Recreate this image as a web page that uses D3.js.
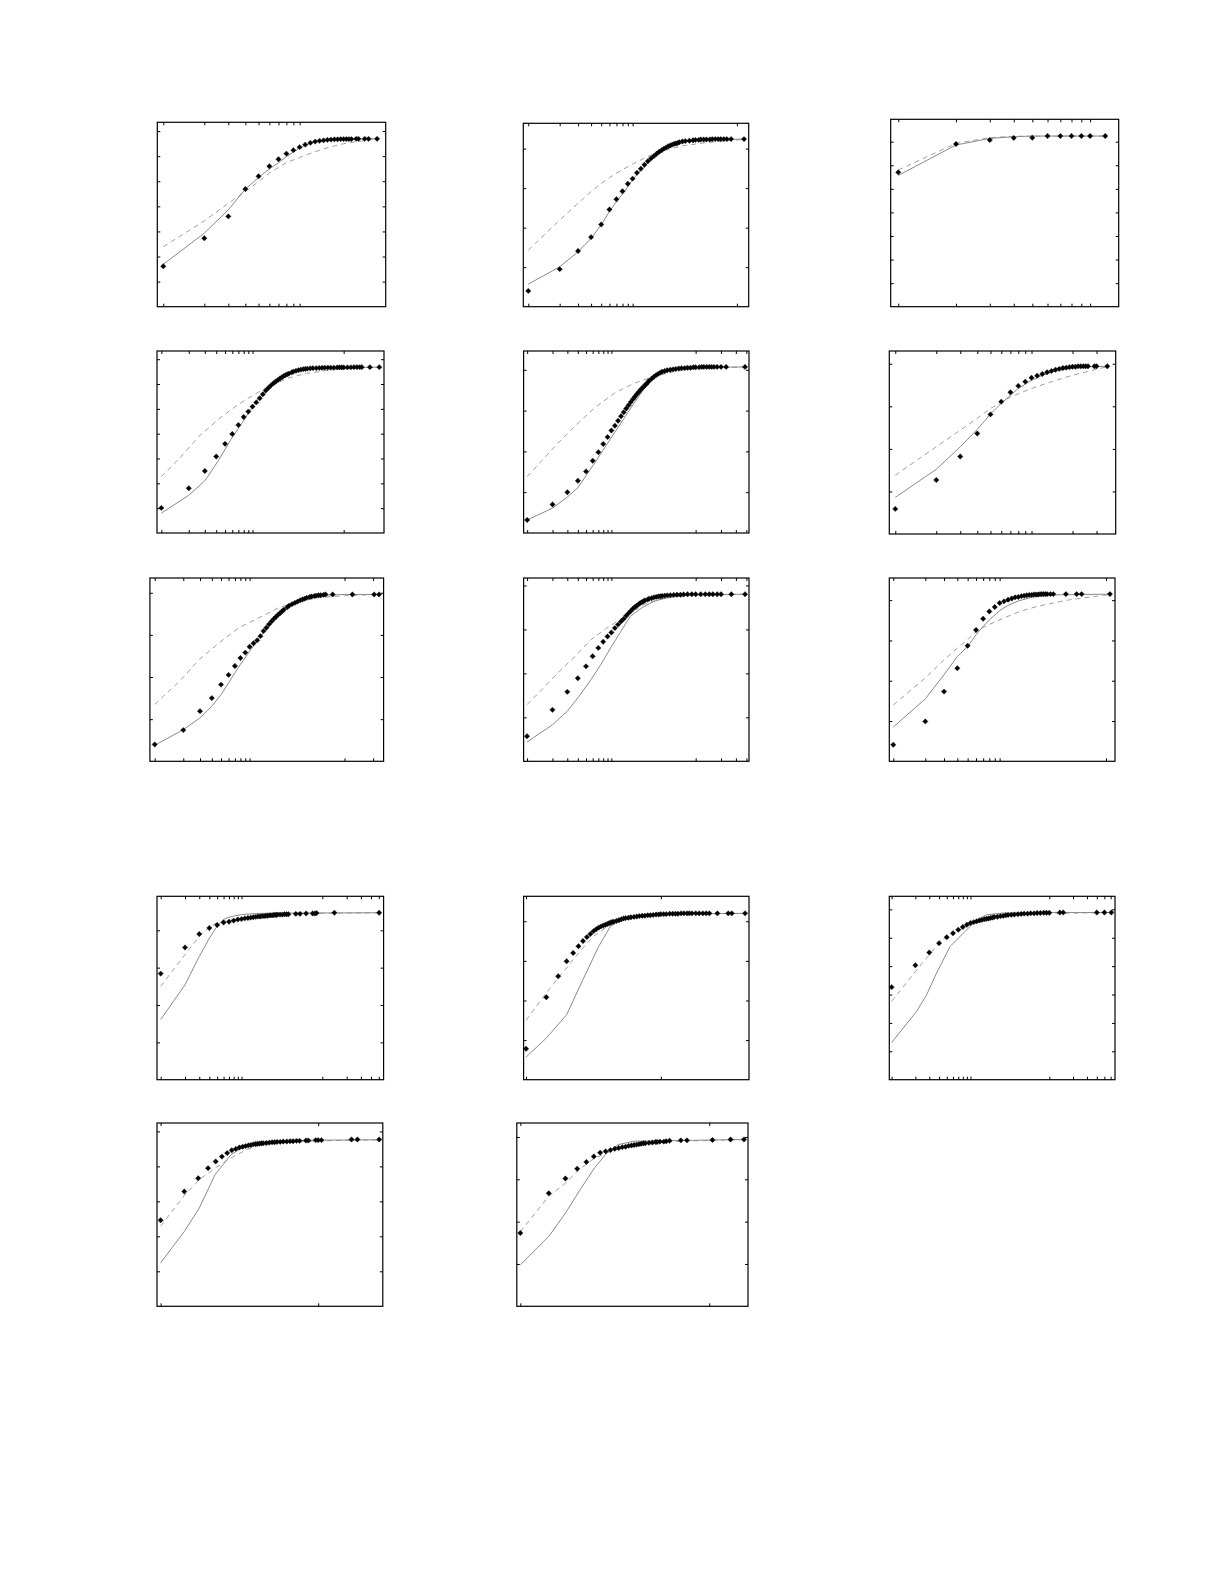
<!DOCTYPE html>
<html><head><meta charset="utf-8">
<script src="https://cdn.jsdelivr.net/npm/d3@7"></script>
<style>html,body{margin:0;padding:0;background:#fff;}</style>
</head><body>
<svg id="c" width="1225" height="1585"></svg>
<script>
// ---------- DATA (x: log axis value, y: value in tick units) ----------
const dec1 = [1,2,3,4,5,6,7,8,9,10];

// Panel 1
const p1XDom = [0.904, 42.8], p1YDom = [0, 7.35];
const p1XTicks = dec1, p1YTicks = [1,2,3,4,5,6,7];
const p1Pts = [[1,1.61],[2,2.73],[3,3.60],[4,4.69],[5,5.20],[6,5.60],[7,5.88],[8,6.10],[9,6.24],[10,6.36],[11,6.46],[12,6.53],[13,6.58],[14,6.61],[15,6.63],[16,6.65],[17,6.66],[18,6.67],[19,6.67],[20,6.68],[21,6.68],[22,6.68],[23,6.68],[24,6.68],[26,6.69],[27,6.69],[30,6.69],[32,6.69],[37,6.69]];
const p1Solid = [[1,1.69],[2,2.93],[3,3.86],[4,4.69],[5,5.15],[6,5.49],[7,5.74],[8,5.98],[9,6.16],[10,6.34],[12,6.52],[15,6.62],[20,6.68],[37,6.69]];
const p1Dash = [[1,2.39],[2,3.42],[3,4.12],[4,4.59],[5,4.99],[6,5.32],[7,5.56],[8,5.74],[10,5.95],[13,6.18],[17,6.38],[22,6.52],[30,6.62],[37,6.68]];

// Panel 2
const p2XDom = [0.896, 129.7], p2YDom = [0, 4.64];
const p2XTicks = [...dec1, 100], p2YTicks = [1,2,3,4];
const p2Pts = [[1,0.40],[2,0.95],[3,1.41],[4,1.76],[5,2.08],[6,2.46],[7,2.72],[8,2.92],[9,3.11],[10,3.24],[11,3.39],[12,3.49],[13,3.59],[14,3.68],[15,3.75],[16,3.81],[17,3.87],[18,3.92],[19,3.96],[20,4.00],[21,4.03],[22,4.06],[23,4.08],[24,4.10],[25,4.12],[26,4.13],[27,4.14],[28,4.16],[30,4.18],[32,4.19],[35,4.20],[38,4.21],[40,4.22],[43,4.22],[45,4.23],[48,4.23],[51,4.23],[55,4.23],[58,4.24],[62,4.24],[66,4.24],[70,4.24],[75,4.24],[80,4.24],[88,4.24],[117,4.24]];
const p2Solid = [[1,0.57],[2,1.01],[3,1.39],[4,1.73],[5,2.07],[6,2.41],[7,2.66],[8,2.85],[10,3.21],[12,3.46],[15,3.73],[20,3.98],[25,4.10],[30,4.16],[40,4.20],[60,4.23],[117,4.24]];
const p2Dash = [[1,1.43],[2,2.19],[3,2.62],[4,2.91],[5,3.12],[7,3.38],[10,3.61],[14,3.80],[20,3.95],[30,4.07],[50,4.15],[80,4.20],[117,4.23]];

// Panel 3
const p3XDom = [0.913, 14.1], p3YDom = [0, 7.95];
const p3XTicks = dec1, p3YTicks = [1,2,3,4,5,6,7];
const p3Pts = [[1,5.70],[2,6.90],[3,7.07],[4,7.16],[5,7.17],[6,7.24],[7,7.24],[8,7.24],[9,7.24],[10,7.24],[12,7.24]];
const p3Solid = [[1,5.57],[2,6.86],[3,7.14],[4,7.21],[5,7.24],[12,7.24]];
const p3Dash = [[1,5.80],[2,6.93],[3,7.17],[4,7.23],[12,7.24]];

// Panel 4
const p4XDom = [0.896, 277], p4YDom = [0, 7.33];
const p4XTicks = [...dec1, 100], p4YTicks = [1,2,3,4,5,6,7];
const p4Pts = [[1,1.01],[2,1.80],[3,2.50],[4,3.08],[5,3.59],[6,3.99],[7,4.35],[8,4.67],[9,4.89],[10,5.09],[11,5.26],[12,5.43],[13,5.59],[14,5.74],[15,5.85],[16,5.95],[17,6.03],[18,6.10],[19,6.16],[20,6.22],[21,6.27],[22,6.32],[23,6.36],[24,6.39],[25,6.42],[27,6.47],[28,6.50],[30,6.53],[32,6.56],[34,6.58],[36,6.60],[38,6.61],[40,6.62],[43,6.63],[46,6.64],[50,6.64],[54,6.65],[58,6.65],[62,6.66],[67,6.66],[72,6.66],[78,6.66],[85,6.67],[90,6.67],[95,6.67],[100,6.67],[110,6.67],[120,6.67],[130,6.68],[140,6.68],[150,6.68],[158,6.68],[194,6.68],[246,6.68]];
const p4Solid = [[1,0.80],[2,1.52],[3,2.10],[4.3,2.96],[5.8,3.77],[7.9,4.50],[10.6,5.23],[14.3,5.79],[17.5,6.03],[22,6.30],[28,6.47],[40,6.60],[70,6.65],[246,6.68]];
const p4Dash = [[1,2.27],[1.6,3.03],[2.6,3.90],[4.3,4.60],[7.1,5.20],[11.7,5.68],[15.8,5.92],[25,6.25],[39,6.43],[71,6.56],[130,6.64],[246,6.68]];

// Panel 5
const p5XDom = [0.907, 430], p5YDom = [0, 4.46];
const p5XTicks = [...dec1, 100, 200, 300, 400], p5YTicks = [1,2,3,4];
const p5Pts = [[1,0.32],[2,0.70],[3,1.00],[4,1.28],[5,1.51],[6,1.77],[7,1.98],[8,2.18],[9,2.35],[10,2.51],[11,2.63],[12,2.75],[13,2.86],[14,2.96],[15,3.05],[16,3.13],[17,3.21],[18,3.28],[19,3.34],[20,3.40],[21,3.45],[22,3.50],[23,3.54],[24,3.58],[25,3.62],[26,3.65],[27,3.69],[28,3.73],[30,3.78],[32,3.83],[34,3.87],[36,3.90],[38,3.93],[40,3.95],[43,3.97],[46,3.99],[50,4.00],[54,4.01],[58,4.02],[63,4.03],[68,4.04],[74,4.04],[80,4.05],[87,4.05],[94,4.06],[100,4.06],[110,4.06],[118,4.07],[125,4.07],[135,4.07],[145,4.07],[155,4.07],[165,4.07],[180,4.07],[200,4.07],[230,4.07],[386,4.07]];
const p5Solid = [[1,0.32],[2,0.61],[3,0.88],[4,1.11],[6.35,1.72],[10.9,2.46],[18.7,3.19],[29,3.76],[40,3.92],[60,4.01],[100,4.05],[386,4.07]];
const p5Dash = [[1,1.38],[2.15,2.13],[3.7,2.62],[6.35,3.07],[10.9,3.43],[18.7,3.67],[32,3.84],[60,3.97],[120,4.04],[386,4.07]];

// Panel 6
const p6XDom = [0.904, 41.5], p6YDom = [0, 4.30];
const p6XTicks = [...dec1, 20, 30], p6YTicks = [1,2,3,4];
const p6Pts = [[1,0.59],[2,1.27],[3,1.82],[4,2.36],[5,2.81],[6,3.11],[7,3.33],[8,3.48],[9,3.58],[10,3.67],[11,3.72],[12,3.76],[13,3.80],[14,3.83],[15,3.86],[16,3.88],[17,3.90],[18,3.91],[19,3.92],[20,3.93],[21,3.93],[22,3.94],[23,3.94],[24,3.94],[25,3.94],[26,3.94],[29,3.94],[30,3.94],[36,3.94]];
const p6Solid = [[1,0.86],[2,1.52],[3,2.05],[4,2.46],[5,2.82],[6,3.07],[7,3.26],[8,3.42],[10,3.61],[12,3.73],[15,3.83],[20,3.90],[25,3.93],[36,3.94]];
const p6Dash = [[1,1.38],[2,2.05],[3,2.44],[4,2.72],[5,2.95],[7,3.22],[10,3.42],[15,3.61],[20,3.73],[30,3.87],[36,3.93]];

// Panel 7
const p7XDom = [0.89, 258], p7YDom = [0, 4.35];
const p7XTicks = [...dec1, 100, 200], p7YTicks = [1,2,3,4];
const p7Pts = [[1,0.40],[2,0.74],[3,1.19],[4,1.50],[5,1.82],[6,2.05],[7,2.26],[8,2.45],[9,2.58],[10,2.72],[11,2.80],[12,2.87],[13,2.97],[14,3.09],[15,3.17],[16,3.25],[17,3.32],[18,3.38],[19,3.43],[20,3.48],[21,3.52],[22,3.56],[23,3.60],[25,3.66],[26,3.69],[28,3.73],[30,3.76],[32,3.79],[34,3.82],[36,3.84],[38,3.86],[40,3.88],[43,3.90],[45,3.91],[48,3.92],[50,3.93],[53,3.94],[56,3.94],[60,3.95],[63,3.96],[75,3.96],[121,3.96],[205,3.96],[231,3.96]];
const p7Solid = [[1,0.38],[2,0.75],[3,1.03],[4,1.31],[5,1.58],[6,1.86],[7,2.10],[8,2.30],[10,2.61],[12,2.87],[15,3.13],[20,3.44],[25,3.64],[28,3.74],[40,3.86],[60,3.94],[100,3.96],[231,3.96]];
const p7Dash = [[1,1.35],[1.83,1.90],[2.96,2.42],[4.77,2.81],[7.7,3.17],[12.4,3.40],[20,3.64],[29.5,3.76],[50,3.88],[100,3.93],[231,3.96]];

// Panel 8
const p8XDom = [0.91, 429], p8YDom = [0, 4.17];
const p8XTicks = [...dec1, 100, 200, 300, 400], p8YTicks = [1,2,3,4];
const p8Pts = [[1,0.57],[2,1.17],[3,1.58],[4,1.89],[5,2.16],[6,2.39],[7,2.58],[8,2.72],[9,2.84],[10,2.93],[11,3.03],[12,3.11],[13,3.18],[14,3.24],[15,3.31],[16,3.37],[17,3.42],[18,3.47],[19,3.51],[20,3.54],[21,3.57],[22,3.60],[23,3.62],[24,3.64],[25,3.66],[27,3.68],[28,3.70],[30,3.71],[32,3.73],[34,3.74],[36,3.75],[38,3.755],[40,3.76],[43,3.77],[46,3.775],[50,3.78],[55,3.785],[60,3.79],[66,3.79],[72,3.795],[80,3.80],[90,3.80],[100,3.80],[115,3.80],[130,3.80],[145,3.80],[160,3.80],[180,3.80],[200,3.80],[265,3.80],[385,3.80]];
const p8Solid = [[1,0.44],[2,0.83],[3,1.14],[4.15,1.48],[5.74,1.86],[7.5,2.20],[9.8,2.58],[12.9,2.95],[16.8,3.30],[23.4,3.50],[32,3.64],[50,3.74],[100,3.79],[385,3.80]];
const p8Dash = [[1,1.29],[1.57,1.67],[2.42,2.05],[3.73,2.39],[5.74,2.77],[8.8,3.03],[13.6,3.26],[16.8,3.37],[25,3.58],[40,3.70],[80,3.78],[385,3.80]];

// Panel 9
const p9XDom = [0.917, 121.6], p9YDom = [0, 4.55];
const p9XTicks = [...dec1, 100], p9YTicks = [1,2,3,4];
const p9Pts = [[1,0.41],[2,0.99],[3,1.73],[4,2.31],[5,2.87],[6,3.26],[7,3.54],[8,3.72],[9,3.83],[10,3.93],[11,3.97],[12,4.01],[13,4.04],[14,4.07],[15,4.08],[16,4.10],[17,4.11],[18,4.12],[19,4.13],[20,4.13],[21,4.14],[22,4.14],[23,4.14],[24,4.15],[25,4.15],[26,4.15],[27,4.15],[28,4.15],[30,4.15],[32,4.15],[42,4.15],[53,4.15],[59,4.15],[109,4.15]];
const p9Solid = [[1,0.85],[2,1.55],[3,2.15],[4,2.60],[5,2.85],[6,3.14],[7,3.35],[8,3.51],[10,3.74],[12,3.87],[15,3.98],[20,4.07],[30,4.13],[109,4.15]];
const p9Dash = [[1,1.40],[2,2.07],[3,2.52],[4,2.81],[5,3.02],[6,3.22],[7.3,3.35],[10.8,3.55],[15.5,3.72],[22.2,3.84],[31.9,3.93],[45.8,4.01],[94,4.12],[109,4.13]];

// Panel 10
const p10XDom = [0.90, 573], p10YDom = [0, 4.91];
const p10XTicks = [...dec1, 100, 200, 300, 400, 500], p10YTicks = [1,2,3,4];
const p10Pts = [[1,2.84],[2,3.54],[3,3.90],[4,4.06],[5,4.14],[6,4.21],[7,4.23],[8,4.26],[9,4.29],[10,4.30],[11,4.32],[12,4.33],[13,4.34],[14,4.35],[15,4.36],[16,4.37],[17,4.37],[18,4.38],[19,4.38],[20,4.39],[21,4.39],[22,4.40],[23,4.40],[24,4.40],[25,4.41],[26,4.41],[27,4.41],[28,4.42],[30,4.42],[32,4.42],[34,4.43],[36,4.43],[38,4.43],[47,4.44],[53,4.44],[63,4.45],[76,4.45],[81,4.45],[85,4.46],[141,4.47],[505,4.47]];
const p10Solid = [[1,1.61],[2,2.54],[3,3.30],[4,3.79],[5,4.11],[6,4.29],[7,4.35],[8,4.38],[10,4.42],[15,4.45],[30,4.46],[505,4.47]];
const p10Dash = [[1,2.50],[2,3.35],[3,3.84],[4,4.09],[5,4.20],[6,4.24],[10,4.31],[20,4.40],[50,4.45],[505,4.47]];

// Panel 11
const p11XDom = [0.92, 2032], p11YDom = [0, 4.63];
const p11XTicks = [1, 100], p11YTicks = [1,2,3,4];
const p11Pts = [[1,0.78],[2,2.08],[3,2.61],[4,2.99],[5,3.20],[6,3.37],[7,3.50],[8,3.60],[9,3.68],[10,3.75],[11,3.80],[12,3.84],[13,3.87],[14,3.89],[15,3.91],[16,3.93],[17,3.95],[18,3.97],[19,3.98],[20,3.99],[22,4.01],[24,4.03],[26,4.05],[28,4.07],[30,4.08],[33,4.09],[36,4.10],[40,4.11],[44,4.12],[48,4.13],[53,4.14],[58,4.14],[64,4.15],[70,4.15],[77,4.16],[85,4.17],[93,4.17],[100,4.18],[110,4.18],[120,4.18],[135,4.19],[150,4.19],[165,4.19],[180,4.19],[200,4.20],[220,4.20],[245,4.20],[265,4.20],[290,4.20],[330,4.20],[370,4.20],[420,4.20],[470,4.20],[525,4.20],[690,4.20],[1000,4.20],[1130,4.20],[1778,4.20]];
const p11Solid = [[1,0.57],[2,1.05],[4,1.64],[7,2.53],[12,3.37],[18,3.88],[27,4.04],[50,4.14],[100,4.18],[1778,4.20]];
const p11Dash = [[1,1.50],[2,2.19],[3,2.57],[4,2.82],[5,3.03],[7,3.33],[10,3.62],[15,3.83],[20,3.94],[30,4.04],[50,4.13],[100,4.17],[1778,4.20]];

// Panel 12
const p12XDom = [0.934, 681], p12YDom = [0, 6.46];
const p12XTicks = [...dec1, 100, 200, 300, 400, 500, 600], p12YTicks = [1,2,3,4,5,6];
const p12Pts = [[1,3.26],[2,4.03],[3,4.48],[4,4.81],[5,5.02],[6,5.16],[7,5.28],[8,5.38],[9,5.46],[10,5.52],[11,5.55],[12,5.58],[13,5.61],[14,5.63],[15,5.65],[16,5.67],[17,5.68],[18,5.70],[19,5.71],[20,5.73],[22,5.74],[24,5.76],[26,5.77],[28,5.79],[30,5.80],[33,5.81],[36,5.82],[40,5.83],[44,5.84],[48,5.85],[53,5.85],[58,5.86],[64,5.86],[70,5.87],[77,5.87],[85,5.88],[92,5.88],[100,5.88],[136,5.89],[150,5.89],[400,5.89],[500,5.89],[612,5.89]];
const p12Solid = [[1,1.31],[2.08,2.41],[2.78,2.99],[3.72,3.76],[5.5,4.69],[8.1,5.16],[9.9,5.40],[12,5.63],[16,5.81],[26,5.87],[100,5.89],[612,5.89]];
const p12Dash = [[1,2.76],[2,3.81],[3,4.40],[4,4.81],[5,5.05],[6,5.16],[8,5.34],[10,5.46],[15,5.63],[30,5.77],[60,5.84],[612,5.89]];

// Panel 13
const p13XDom = [0.90, 661], p13YDom = [0, 5.24];
const p13XTicks = [1, 100], p13YTicks = [1,2,3,4,5];
const p13Pts = [[1,2.46],[2,3.28],[3,3.66],[4,3.95],[5,4.14],[6,4.28],[7,4.38],[8,4.46],[9,4.50],[10,4.54],[11,4.56],[12,4.58],[13,4.60],[14,4.61],[15,4.63],[16,4.64],[17,4.65],[18,4.65],[19,4.66],[20,4.66],[22,4.67],[24,4.68],[26,4.69],[28,4.69],[30,4.70],[33,4.70],[36,4.71],[40,4.71],[44,4.72],[48,4.72],[53,4.73],[58,4.73],[70,4.74],[75,4.74],[93,4.75],[100,4.75],[110,4.75],[265,4.77],[315,4.77],[595,4.77]];
const p13Solid = [[1,1.24],[2,2.14],[3.1,2.81],[4.9,3.76],[7.8,4.33],[12.4,4.62],[17.6,4.69],[31,4.73],[100,4.75],[595,4.76]];
const p13Dash = [[1,2.29],[2,3.17],[3.1,3.62],[4.9,3.95],[7.8,4.24],[12.4,4.48],[17.6,4.59],[31,4.67],[100,4.73],[595,4.76]];

// Panel 14
const p14XDom = [0.917, 257], p14YDom = [0, 4.33];
const p14XTicks = [1, 100], p14YTicks = [1,2,3,4];
const p14Pts = [[1,1.73],[2,2.67],[3,3.02],[4,3.25],[5,3.41],[6,3.54],[7,3.63],[8,3.66],[9,3.69],[10,3.72],[11,3.74],[12,3.76],[13,3.77],[14,3.79],[15,3.80],[16,3.81],[17,3.82],[18,3.83],[19,3.84],[20,3.85],[21,3.85],[23,3.86],[25,3.87],[27,3.88],[28,3.88],[30,3.89],[33,3.89],[35,3.90],[38,3.91],[50,3.92],[58,3.92],[108,3.93],[168,3.94],[233,3.94]];
const p14Solid = [[1,0.98],[2,1.65],[3,2.20],[4.2,2.72],[6.1,3.27],[8.2,3.62],[10.9,3.82],[16,3.90],[233,3.94]];
const p14Dash = [[1,1.76],[2,2.60],[3,2.91],[4.2,3.23],[6.1,3.50],[10,3.70],[16,3.82],[25,3.88],[233,3.94]];

// ---------- LAYOUT (frame: left, top, right, bottom in px) ----------
const panels = [
  {frame:[157.3,122.3,385.7,306.7], xDom:p1XDom, yDom:p1YDom, xTicks:p1XTicks, yTicks:p1YTicks, pts:p1Pts, solid:p1Solid, dash:p1Dash},
  {frame:[523.3,123.3,748.7,306.7], xDom:p2XDom, yDom:p2YDom, xTicks:p2XTicks, yTicks:p2YTicks, pts:p2Pts, solid:p2Solid, dash:p2Dash},
  {frame:[890.7,119.3,1118.7,306.7], xDom:p3XDom, yDom:p3YDom, xTicks:p3XTicks, yTicks:p3YTicks, pts:p3Pts, solid:p3Solid, dash:p3Dash},
  {frame:[157,351,384,533], xDom:p4XDom, yDom:p4YDom, xTicks:p4XTicks, yTicks:p4YTicks, pts:p4Pts, solid:p4Solid, dash:p4Dash},
  {frame:[523.6,351,749,533], xDom:p5XDom, yDom:p5YDom, xTicks:p5XTicks, yTicks:p5YTicks, pts:p5Pts, solid:p5Solid, dash:p5Dash},
  {frame:[889.3,351,1115.7,534], xDom:p6XDom, yDom:p6YDom, xTicks:p6XTicks, yTicks:p6YTicks, pts:p6Pts, solid:p6Solid, dash:p6Dash},
  {frame:[149.9,578,383.6,761.3], xDom:p7XDom, yDom:p7YDom, xTicks:p7XTicks, yTicks:p7YTicks, pts:p7Pts, solid:p7Solid, dash:p7Dash},
  {frame:[523.6,578,749,761.3], xDom:p8XDom, yDom:p8YDom, xTicks:p8XTicks, yTicks:p8YTicks, pts:p8Pts, solid:p8Solid, dash:p8Dash},
  {frame:[889.3,578,1115,761.3], xDom:p9XDom, yDom:p9YDom, xTicks:p9XTicks, yTicks:p9YTicks, pts:p9Pts, solid:p9Solid, dash:p9Dash},
  {frame:[157,896.3,383.6,1079.7], xDom:p10XDom, yDom:p10YDom, xTicks:p10XTicks, yTicks:p10YTicks, pts:p10Pts, solid:p10Solid, dash:p10Dash},
  {frame:[523.6,896.3,749,1079.7], xDom:p11XDom, yDom:p11YDom, xTicks:p11XTicks, yTicks:p11YTicks, pts:p11Pts, solid:p11Solid, dash:p11Dash},
  {frame:[889.3,896.3,1115,1079.7], xDom:p12XDom, yDom:p12YDom, xTicks:p12XTicks, yTicks:p12YTicks, pts:p12Pts, solid:p12Solid, dash:p12Dash},
  {frame:[157,1123,382.8,1306.3], xDom:p13XDom, yDom:p13YDom, xTicks:p13XTicks, yTicks:p13YTicks, pts:p13Pts, solid:p13Solid, dash:p13Dash},
  {frame:[516.8,1123,748,1306.3], xDom:p14XDom, yDom:p14YDom, xTicks:p14XTicks, yTicks:p14YTicks, pts:p14Pts, solid:p14Solid, dash:p14Dash}
];

const svg = d3.select("#c");
svg.append("rect").attr("width",1225).attr("height",1585).attr("fill","#fff");

const TK = 3;
const marker = "M0,-2.7L2.7,0L0,2.7L-2.7,0Z";

panels.forEach(p => {
  const [L,T,R,B] = p.frame;
  const x = d3.scaleLog().domain(p.xDom).range([L,R]);
  const y = d3.scaleLinear().domain(p.yDom).range([B,T]);
  const g = svg.append("g");
  const line = d3.line().x(d=>x(d[0])).y(d=>y(d[1])).curve(d3.curveLinear);

  const axes = [
    [d3.axisBottom(x).tickValues(p.xTicks), `translate(0,${B})`],
    [d3.axisTop(x).tickValues(p.xTicks), `translate(0,${T})`],
    [d3.axisLeft(y).tickValues(p.yTicks), `translate(${L},0)`],
    [d3.axisRight(y).tickValues(p.yTicks), `translate(${R},0)`]
  ];
  axes.forEach(([ax, tr]) => {
    const a = g.append("g").attr("transform", tr).attr("color","#000")
      .call(ax.tickSize(-TK).tickFormat(""));
    a.select(".domain").remove();
    a.selectAll("line").attr("stroke-width",1);
  });

  g.append("path").datum(p.dash).attr("d", line)
    .attr("fill","none").attr("stroke","#a0a0a0").attr("stroke-width",1)
    .attr("stroke-linejoin","round").attr("stroke-dasharray","5,4");
  g.append("path").datum(p.solid).attr("d", line)
    .attr("fill","none").attr("stroke","#8a8a8a").attr("stroke-width",1)
    .attr("stroke-linejoin","round");

  g.selectAll("path.m").data(p.pts).join("path").attr("class","m")
    .attr("d", marker)
    .attr("transform", d => `translate(${x(d[0])},${y(d[1])})`)
    .attr("fill","#000").attr("stroke","#222").attr("stroke-width",0.4);

  g.append("rect").attr("x",L).attr("y",T).attr("width",R-L).attr("height",B-T)
    .attr("fill","none").attr("stroke","#000").attr("stroke-width",1.2);
});
</script>
</body></html>
